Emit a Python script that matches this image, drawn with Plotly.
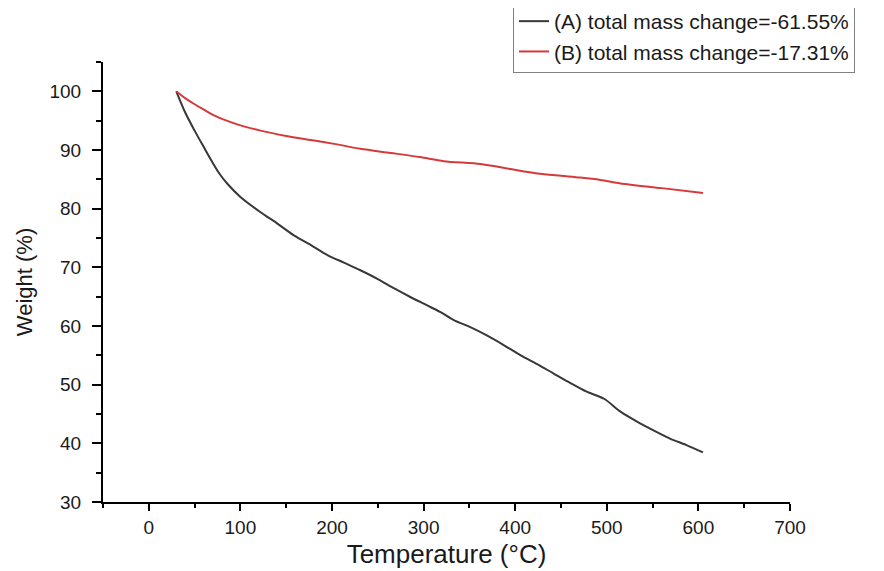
import plotly.graph_objects as go

temp_a = [30, 40, 50, 60, 68, 77, 86, 100, 122, 140, 158, 177, 195, 213, 231, 250, 268, 286, 304, 318, 333, 351, 369, 387, 406, 424, 442, 460, 478, 497, 515, 533, 551, 569, 587, 605]
weight_a = [100, 96.3, 93.3, 90.5, 88.3, 86.0, 84.2, 82.0, 79.4, 77.5, 75.5, 73.8, 72.1, 70.8, 69.5, 68.0, 66.4, 64.9, 63.5, 62.4, 61.0, 59.8, 58.4, 56.8, 55.0, 53.5, 51.9, 50.3, 48.8, 47.6, 45.4, 43.7, 42.2, 40.8, 39.7, 38.45]

temp_b = [30, 40, 50, 60, 70, 85, 100, 122, 150, 177, 204, 231, 264, 296, 322, 362, 393, 424, 450, 471, 493, 515, 560, 605]
weight_b = [100, 98.8, 97.8, 96.9, 96.0, 95.0, 94.2, 93.3, 92.4, 91.7, 91.0, 90.2, 89.5, 88.8, 88.1, 87.6, 86.8, 86.0, 85.6, 85.3, 84.9, 84.3, 83.5, 82.69]

names = ["(A) total mass change=-61.55%", "(B) total mass change=-17.31%"]

FONT = "Liberation Sans, Arial, sans-serif"

fig = go.Figure()
fig.add_trace(go.Scatter(x=temp_a, y=weight_a, mode="lines", name=names[0],
                         line=dict(color="#383838", width=2, shape="spline", smoothing=0.8)))
fig.add_trace(go.Scatter(x=temp_b, y=weight_b, mode="lines", name=names[1],
                         line=dict(color="#d6393b", width=2, shape="spline", smoothing=0.8)))

common = dict(showgrid=False, zeroline=False, showline=True, linecolor="black", linewidth=2,
              ticks="outside", tickwidth=2, tickcolor="black",
              tickfont=dict(family=FONT, size=19, color="#1a1a1a"))

# page body has an 8px margin; figure sized so it ends at the window edge
fig.update_layout(
    width=876, height=563,
    paper_bgcolor="white", plot_bgcolor="white",
    margin=dict(l=95, r=94, t=54, b=69, autoexpand=False),
    font=dict(family=FONT, color="#1a1a1a"),
    xaxis=dict(range=[-50, 700], tickvals=[0, 100, 200, 300, 400, 500, 600, 700], ticklen=7,
               minor=dict(tickvals=[-50, 50, 150, 250, 350, 450, 550, 650], ticks="outside",
                          ticklen=4, tickwidth=2, tickcolor="black"),
               title=dict(text="Temperature (°C)", font=dict(family=FONT, size=26), standoff=8),
               **common),
    yaxis=dict(range=[30, 105], tickvals=[30, 40, 50, 60, 70, 80, 90, 100], ticklen=9,
               ticklabelstandoff=7,
               minor=dict(tickvals=[35, 45, 55, 65, 75, 85, 95, 105], ticks="outside",
                          ticklen=5, tickwidth=2, tickcolor="black"),
               title=dict(text="Weight (%)", font=dict(family=FONT, size=22), standoff=11),
               **common),
    legend=dict(x=(505 - 95) / 687, y=(494 + 8) / 440, xref="paper", yref="paper",
                xanchor="left", yanchor="top",
                bordercolor="#808080", borderwidth=1, bgcolor="white",
                font=dict(family=FONT, size=21, color="#1a1a1a"), tracegroupgap=0),
    showlegend=True,
)

fig.write_html("out.html")
